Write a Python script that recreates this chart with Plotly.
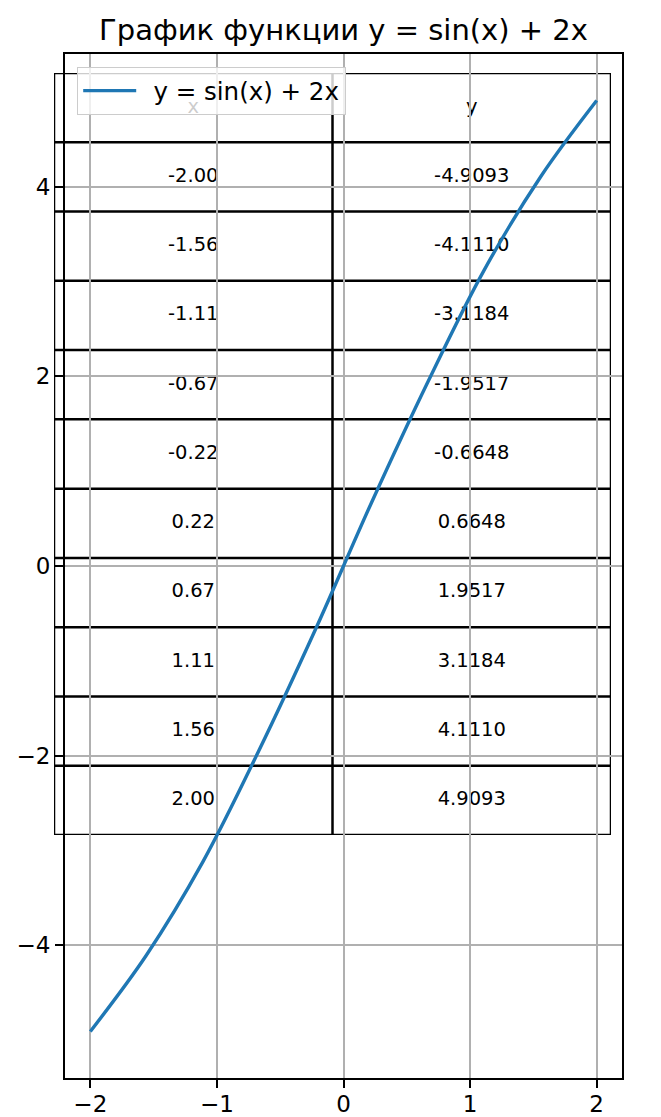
import plotly.graph_objects as go

# ---- data ----
x_values = [-2.00, -1.56, -1.11, -0.67, -0.22, 0.22, 0.67, 1.11, 1.56, 2.00]
y_values = [-4.9093, -4.1110, -3.1184, -1.9517, -0.6648, 0.6648, 1.9517, 3.1184, 4.1110, 4.9093]
x_labels = ["-2.00", "-1.56", "-1.11", "-0.67", "-0.22", "0.22", "0.67", "1.11", "1.56", "2.00"]
y_labels = ["-4.9093", "-4.1110", "-3.1184", "-1.9517", "-0.6648", "0.6648", "1.9517", "3.1184", "4.1110", "4.9093"]
header = ["x", "y"]
x_ticks = [-2, -1, 0, 1, 2]
y_ticks = [-4, -2, 0, 2, 4]
title_text = "График функции y = sin(x) + 2x"
series_name = "y = sin(x) + 2x"

FONT = "DejaVu Sans"
OFF = 8                      # page body margin
W, H = 661 - 2 * OFF, 1117 - OFF
# window-pixel layout targets
PAPER_L, PAPER_R, PAPER_T, PAPER_B = 54, 622, 54, 1078
AX_L = 65
TAB_R, TAB_T, TAB_B = 611, 73, 835
ML, MR, MT, MB = PAPER_L - OFF, W - (PAPER_R - OFF), PAPER_T - OFF, H - (PAPER_B - OFF)
PW = PAPER_R - PAPER_L
PH = PAPER_B - PAPER_T

def px_x(wx):
    return (wx - PAPER_L) / PW

def px_y(wy):
    return (PAPER_B - wy) / PH

fig = go.Figure()

# ---- table (on axes x/y, drawn first -> below the plot) ----
n_rows = len(x_labels) + 1
lx, ly = [], []
for r in range(n_rows + 1):
    lx += [0, 2, None]
    ly += [r, r, None]
for c in range(3):
    lx += [c, c, None]
    ly += [0, n_rows, None]
fig.add_trace(go.Scatter(x=lx, y=ly, mode="lines", xaxis="x", yaxis="y",
                         line=dict(color="black", width=2.5), showlegend=False,
                         hoverinfo="skip", cliponaxis=False))
cells_text = header[:1] + x_labels
cells_text2 = header[1:] + y_labels
tx = [0.5] * n_rows + [1.5] * n_rows
ty = [r + 0.5 for r in range(n_rows)] * 2
fig.add_trace(go.Scatter(x=tx, y=ty, mode="text", text=cells_text + cells_text2,
                         textposition="middle center", xaxis="x", yaxis="y",
                         textfont=dict(family=FONT, size=19.5, color="black"),
                         showlegend=False, hoverinfo="skip", cliponaxis=False))

# ---- curve ----
fig.add_trace(go.Scatter(x=x_values, y=y_values, mode="lines", name="\u2002" + series_name,
                         xaxis="x2", yaxis="y2",
                         line=dict(color="#1f77b4", width=3.4, shape="spline")))

ax_style = dict(showline=True, mirror=True, linecolor="black", linewidth=2,
                ticks="outside", ticklen=8, tickwidth=2, tickcolor="black",
                showgrid=True, gridcolor="#b0b0b0", gridwidth=1.8, zeroline=False,
                automargin=False,
                tickfont=dict(family=FONT, size=23, color="black"))

fig.update_layout(
    width=W, height=H,
    margin=dict(l=ML, r=MR, t=MT, b=MB, pad=0, autoexpand=False),
    paper_bgcolor="white", plot_bgcolor="rgba(0,0,0,0)",
    font=dict(family=FONT, color="black"),
    title=dict(text=title_text, x=px_x((AX_L + PAPER_R) / 2), xref="paper", xanchor="center",
               y=1 - (30 - OFF) / H, yref="container", yanchor="middle",
               font=dict(family=FONT, size=29, color="black")),
    xaxis=dict(domain=[0, px_x(TAB_R)], range=[0, 2], visible=False, fixedrange=True,
               automargin=False),
    yaxis=dict(domain=[px_y(TAB_B), px_y(TAB_T)], range=[n_rows, 0],
               visible=False, anchor="x", automargin=False),
    xaxis2=dict(domain=[px_x(AX_L), 1], range=[-2.2, 2.2], tickvals=x_ticks,
                anchor="y2", ticklabelstandoff=-4, **ax_style),
    yaxis2=dict(domain=[0, 1], range=[-5.4, 5.4], tickvals=y_ticks, anchor="x2", **ax_style),
    legend=dict(x=px_x(77), y=px_y(67), xanchor="left", yanchor="top",
                bgcolor="rgba(255,255,255,0.8)", bordercolor="#cccccc", borderwidth=1.2,
                itemwidth=53,
                font=dict(family=FONT, size=24.5, color="black")),
    showlegend=True,
)

fig.add_annotation(text="y", textangle=-90, xref="paper", yref="paper",
                   x=px_x(4), y=px_y(566), xanchor="right", yanchor="middle",
                   showarrow=False, font=dict(family=FONT, size=23, color="black"))

fig.write_html("out.html")
